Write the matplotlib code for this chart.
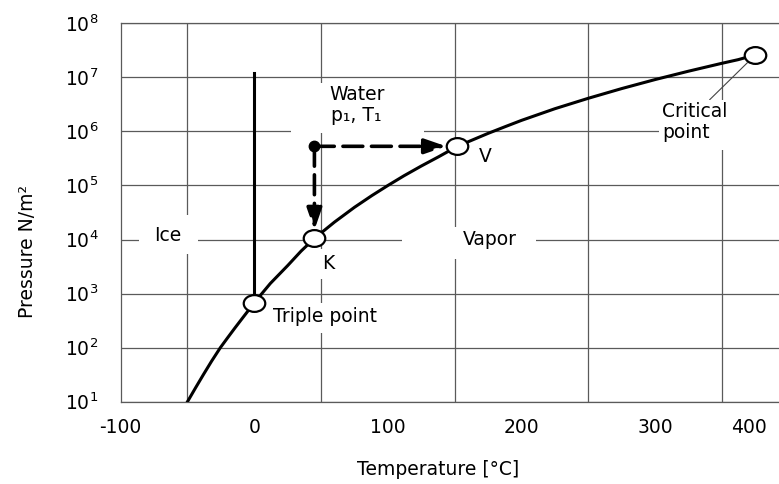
import numpy as np
import matplotlib
matplotlib.use("Agg")
import matplotlib.pyplot as plt
from matplotlib.path import Path
from matplotlib.transforms import Affine2D

plt.rcParams['font.family'] = ['DejaVu Sans']
plt.rcParams['mathtext.fontset'] = 'dejavusans'

# sublimation curve (ice - vapor)
sub_T = [-50, -44, -38, -32, -25.4, -20, -14.4, -9, -4.3, 0.01]
sub_p = [10, 18, 32, 56, 100, 152, 233, 348, 492, 680]
# vapor pressure curve (water - vapor)
vap_T = [0.01, 12, 25, 35, 45, 60, 75, 88, 100, 112, 125, 138, 152, 163, 175,
         188, 200, 225, 250, 275, 300, 325, 350, 362, 375]
vap_p = [680, 1.54e3, 3.3e3, 6.1e3, 1.05e4, 2.1e4, 3.95e4, 6.5e4, 1.0e5, 1.51e5,
         2.29e5, 3.4e5, 5.3e5, 6.9e5, 9.2e5, 1.23e6, 1.6e6, 2.63e6, 4.1e6,
         6.2e6, 9.1e6, 1.3e7, 1.82e7, 2.12e7, 2.6e7]
# melting line
melt_T = [0.01, 0.01]
melt_p = [680, 1.2e7]

triple = (0.01, 680)
point_K = (45, 1.05e4)
point_V = (152, 5.3e5)
critical = (375, 2.6e7)
state_1 = (45, 5.3e5)

x_tick_pos = [-100, 0, 100, 200, 300, 370]
x_tick_labels = ["-100", "0", "100", "200", "300", "400"]
x_grid = [-50, 0, 50, 100, 150, 200, 250, 300, 350]
y_exponents = [1, 2, 3, 4, 5, 6, 7, 8]

grid_color = '#5a5a5a'
fs = 13.5


def pad_box(left, right, top, bottom):
    """white label box with separate paddings (pixels)"""
    def style(x0, y0, width, height, mutation_size):
        x1, y1 = x0 + width + right, y0 + height + top
        x0, y0 = x0 - left, y0 - bottom
        return Path([(x0, y0), (x1, y0), (x1, y1), (x0, y1), (x0, y0)], closed=True)
    return dict(boxstyle=style, facecolor='white', edgecolor='none')


fig = plt.figure(figsize=(7.79, 4.84), dpi=100)
ax = fig.add_axes([0.1549, 0.170, 0.8451, 0.7819])

ax.set_yscale('log')
ax.set_xlim(-100, 392.7)
ax.set_ylim(10, 1e8)

ax.set_xticks(x_tick_pos)
ax.set_xticklabels(x_tick_labels)
ax.set_xticks(x_grid, minor=True)
ax.set_yticks([10.0 ** e for e in y_exponents])
ax.set_yticklabels([r'$\mathregular{10^{%d}}$' % e for e in y_exponents])
ax.yaxis.set_minor_locator(matplotlib.ticker.NullLocator())
ax.tick_params(axis='both', which='both', length=0, labelsize=fs)
ax.tick_params(axis='x', pad=12)
ax.tick_params(axis='y', pad=16)

ax.grid(False)
ax.grid(True, axis='x', which='minor', color=grid_color, lw=0.9)
ax.grid(True, axis='y', which='major', color=grid_color, lw=0.9)
ax.set_axisbelow(True)
for side in ['left', 'bottom', 'top']:
    ax.spines[side].set_color(grid_color)
    ax.spines[side].set_linewidth(0.9)
ax.spines['right'].set_visible(False)

ax.set_xlabel('Temperature [°C]', fontsize=fs, labelpad=16, x=0.482)
ax.set_ylabel('Pressure N/m²', fontsize=fs, labelpad=20, y=0.396)

# curves
ax.plot(sub_T, sub_p, color='black', lw=2.2, zorder=4, solid_joinstyle='round')
ax.plot(vap_T, vap_p, color='black', lw=2.2, zorder=4, solid_joinstyle='round')
ax.plot(melt_T, melt_p, color='black', lw=2.2, zorder=4)

# oval markers
oval = Path.unit_circle().transformed(Affine2D().scale(1.0, 0.78))
for pt in [triple, point_K, point_V, critical]:
    ax.plot(*pt, marker=oval, ms=15.5, mfc='white', mec='black', mew=1.6, zorder=6)
ax.plot(*state_1, marker='o', ms=7.5, color='black', zorder=6)

# dashed arrows
arrow_kw = dict(arrowstyle='-|>,head_length=1.3,head_width=0.45', color='black',
                lw=2.6, linestyle=(0, (5.5, 2.4)), shrinkA=0)
ax.annotate('', xy=point_V, xytext=state_1,
            arrowprops=dict(shrinkB=8, **arrow_kw), zorder=5)
ax.annotate('', xy=point_K, xytext=state_1,
            arrowprops=dict(shrinkB=6, **arrow_kw), zorder=5)

ax.text(-65, 1.2e4, 'Ice', fontsize=fs, ha='center', va='center',
        bbox=pad_box(15, 17, 11, 9), zorder=3)
ax.text(176, 1.0e4, 'Vapor', fontsize=fs, ha='center', va='center',
        bbox=pad_box(60, 20, 3, 10), zorder=3)
ax.text(76.6, 3.1e6, 'Water\np₁, T₁', fontsize=fs, ha='center', va='center',
        linespacing=1.15, bbox=pad_box(38, 40, 2, 8), zorder=3)
ax.text(55.4, 3.6e3, 'K', fontsize=fs, ha='center', va='center',
        bbox=pad_box(6, 6, 5, 6), zorder=3)
ax.text(172.7, 3.4e5, 'V', fontsize=fs, ha='center', va='center', zorder=3)
ax.text(14, 374, 'Triple point', fontsize=fs, ha='left', va='center',
        bbox=pad_box(5, 5, 4, 7), zorder=3)
ax.annotate('Critical\npoint', xy=critical, xytext=(305, 1.5e6), fontsize=fs,
            ha='left', va='center', linespacing=1.15, bbox=pad_box(3, 70, 2, 8),
            zorder=3,
            arrowprops=dict(arrowstyle='-', color='#444444', lw=0.8,
                            shrinkA=0, shrinkB=8, relpos=(0.7, 1.0)))

fig.savefig('out.png', dpi=100)
